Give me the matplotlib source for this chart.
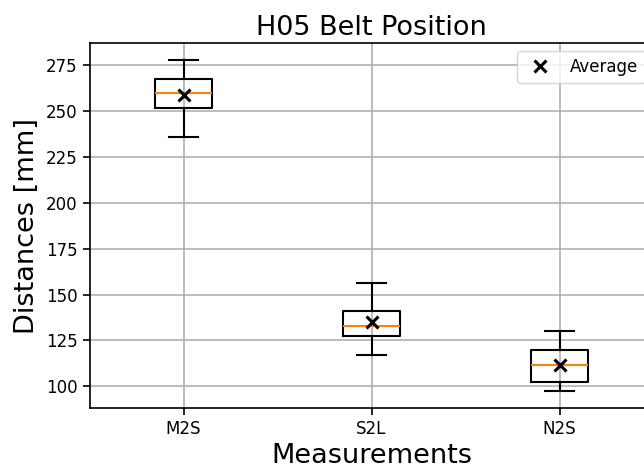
import matplotlib
matplotlib.use("Agg")
import matplotlib.pyplot as plt

categories = ["M2S", "S2L", "N2S"]
whislo = [235.5, 117.2, 97.3]
q1 = [251.3, 127.2, 102.3]
med = [259.7, 132.8, 111.6]
q3 = [267.1, 140.8, 119.6]
whishi = [277.8, 156.2, 130.1]
means = [258.4, 135.0, 111.4]

fig = plt.figure(figsize=(6.44, 4.71), dpi=100)
ax = fig.add_axes([89.5/644, 63/471, 564/644, 365/471])

stats = []
for i, c in enumerate(categories):
    stats.append(dict(label=c, whislo=whislo[i], q1=q1[i], med=med[i],
                      q3=q3[i], whishi=whishi[i], fliers=[]))
positions = list(range(1, len(categories) + 1))
lw = 1.5
ax.bxp(stats, positions=positions, widths=0.3, showfliers=False,
       boxprops=dict(linewidth=lw), whiskerprops=dict(linewidth=lw),
       capprops=dict(linewidth=lw), medianprops=dict(linewidth=lw))
ax.plot(positions, means, linestyle="none", marker="x", color="black",
        markersize=8, markeredgewidth=2.2, label="Average", zorder=5)
ax.set_xlim(0.5, 3.5)
ax.grid(True, linewidth=1.2)
ax.set_axisbelow(True)
for s in ax.spines.values():
    s.set_linewidth(1.2)
ax.tick_params(labelsize=12, width=1.2, length=5)
ax.set_title("H05 Belt Position", fontsize=19.5)
ax.set_xlabel("Measurements", fontsize=19.5)
ax.set_ylabel("Distances [mm]", fontsize=19.5)
ax.legend(loc="upper right", fontsize=12)

fig.savefig("out.png", dpi=100)
